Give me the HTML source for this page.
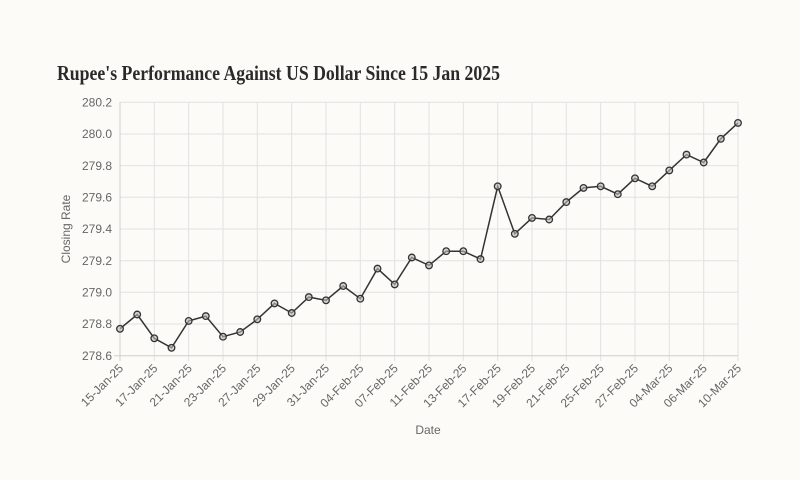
<!DOCTYPE html>
<html><head><meta charset="utf-8"><style>
html,body{margin:0;padding:0;background:#fcfbf7;}
svg{display:block;}
.t{font-family:"Liberation Sans",sans-serif;font-size:12px;fill:#666;}
</style></head><body>
<svg width="800" height="480" viewBox="0 0 800 480" xmlns="http://www.w3.org/2000/svg">
<rect width="800" height="480" fill="#fcfbf7"/>
<text x="57" y="80" font-family="Liberation Serif,serif" font-weight="bold" font-size="21" fill="#2a2a2a" textLength="443" lengthAdjust="spacingAndGlyphs">Rupee's Performance Against US Dollar Since 15 Jan 2025</text>
<g stroke="#e2e2e2" stroke-width="1">
<line x1="120" x2="738" y1="102.3" y2="102.3"/><line x1="120" x2="738" y1="134" y2="134"/><line x1="120" x2="738" y1="165.6" y2="165.6"/><line x1="120" x2="738" y1="197.3" y2="197.3"/><line x1="120" x2="738" y1="229" y2="229"/><line x1="120" x2="738" y1="260.7" y2="260.7"/><line x1="120" x2="738" y1="292.3" y2="292.3"/><line x1="120" x2="738" y1="324" y2="324"/>
<line x1="154.3" x2="154.3" y1="102" y2="361"/><line x1="188.7" x2="188.7" y1="102" y2="361"/><line x1="223" x2="223" y1="102" y2="361"/><line x1="257.3" x2="257.3" y1="102" y2="361"/><line x1="291.7" x2="291.7" y1="102" y2="361"/><line x1="326" x2="326" y1="102" y2="361"/><line x1="360.3" x2="360.3" y1="102" y2="361"/><line x1="394.7" x2="394.7" y1="102" y2="361"/><line x1="429" x2="429" y1="102" y2="361"/><line x1="463.3" x2="463.3" y1="102" y2="361"/><line x1="497.7" x2="497.7" y1="102" y2="361"/><line x1="532" x2="532" y1="102" y2="361"/><line x1="566.3" x2="566.3" y1="102" y2="361"/><line x1="600.7" x2="600.7" y1="102" y2="361"/><line x1="635" x2="635" y1="102" y2="361"/><line x1="669.3" x2="669.3" y1="102" y2="361"/><line x1="703.7" x2="703.7" y1="102" y2="361"/><line x1="738" x2="738" y1="102" y2="361"/>
</g>
<g stroke="#cfcfcf" stroke-width="1"><line x1="120" x2="120" y1="102" y2="361"/><line x1="114" x2="738" y1="355.7" y2="355.7"/></g>
<g class="t" text-anchor="end">
<text x="112" y="106.5">280.2</text><text x="112" y="138">280.0</text><text x="112" y="169.8">279.8</text><text x="112" y="201.5">279.6</text><text x="112" y="233">279.4</text><text x="112" y="265">279.2</text><text x="112" y="296.5">279.0</text><text x="112" y="328">278.8</text><text x="112" y="360">278.6</text>
</g>
<text class="t" transform="translate(70,229) rotate(-90)" text-anchor="middle">Closing Rate</text>
<text class="t" x="428" y="434" text-anchor="middle">Date</text>
<g class="t" text-anchor="end">
<text transform="translate(124,369) rotate(-45)">15-Jan-25</text>
<text transform="translate(158.3,369) rotate(-45)">17-Jan-25</text>
<text transform="translate(192.7,369) rotate(-45)">21-Jan-25</text>
<text transform="translate(227,369) rotate(-45)">23-Jan-25</text>
<text transform="translate(261.3,369) rotate(-45)">27-Jan-25</text>
<text transform="translate(295.7,369) rotate(-45)">29-Jan-25</text>
<text transform="translate(330,369) rotate(-45)">31-Jan-25</text>
<text transform="translate(364.3,369) rotate(-45)">04-Feb-25</text>
<text transform="translate(398.7,369) rotate(-45)">07-Feb-25</text>
<text transform="translate(433,369) rotate(-45)">11-Feb-25</text>
<text transform="translate(467.3,369) rotate(-45)">13-Feb-25</text>
<text transform="translate(501.7,369) rotate(-45)">17-Feb-25</text>
<text transform="translate(536,369) rotate(-45)">19-Feb-25</text>
<text transform="translate(570.3,369) rotate(-45)">21-Feb-25</text>
<text transform="translate(604.7,369) rotate(-45)">25-Feb-25</text>
<text transform="translate(639,369) rotate(-45)">27-Feb-25</text>
<text transform="translate(673.3,369) rotate(-45)">04-Mar-25</text>
<text transform="translate(707.7,369) rotate(-45)">06-Mar-25</text>
<text transform="translate(742,369) rotate(-45)">10-Mar-25</text>
</g>
<polyline fill="none" stroke="#333" stroke-width="1.5" points="120,328.8 137.2,314.5 154.3,338.3 171.5,347.8 188.7,320.9 205.8,316.1 223,336.7 240.2,332 257.3,319.3 274.5,303.4 291.7,313 308.8,297.1 326,300.3 343.2,286 360.3,298.7 377.5,268.6 394.7,284.4 411.8,257.5 429,265.4 446.2,251.2 463.3,251.2 480.5,259.1 497.7,186.3 514.8,233.8 532,217.9 549.2,219.5 566.3,202.1 583.5,187.9 600.7,186.3 617.8,194.2 635,178.3 652.2,186.3 669.3,170.4 686.5,154.6 703.7,162.5 720.8,138.8 738,122.9"/>
<g fill="#bbb" fill-opacity="0.6" stroke="#333" stroke-width="1.3">
<circle cx="120" cy="328.8" r="3.3"/><circle cx="137.2" cy="314.5" r="3.3"/><circle cx="154.3" cy="338.3" r="3.3"/><circle cx="171.5" cy="347.8" r="3.3"/><circle cx="188.7" cy="320.9" r="3.3"/><circle cx="205.8" cy="316.1" r="3.3"/><circle cx="223" cy="336.7" r="3.3"/><circle cx="240.2" cy="332" r="3.3"/><circle cx="257.3" cy="319.3" r="3.3"/><circle cx="274.5" cy="303.4" r="3.3"/><circle cx="291.7" cy="313" r="3.3"/><circle cx="308.8" cy="297.1" r="3.3"/><circle cx="326" cy="300.3" r="3.3"/><circle cx="343.2" cy="286" r="3.3"/><circle cx="360.3" cy="298.7" r="3.3"/><circle cx="377.5" cy="268.6" r="3.3"/><circle cx="394.7" cy="284.4" r="3.3"/><circle cx="411.8" cy="257.5" r="3.3"/><circle cx="429" cy="265.4" r="3.3"/><circle cx="446.2" cy="251.2" r="3.3"/><circle cx="463.3" cy="251.2" r="3.3"/><circle cx="480.5" cy="259.1" r="3.3"/><circle cx="497.7" cy="186.3" r="3.3"/><circle cx="514.8" cy="233.8" r="3.3"/><circle cx="532" cy="217.9" r="3.3"/><circle cx="549.2" cy="219.5" r="3.3"/><circle cx="566.3" cy="202.1" r="3.3"/><circle cx="583.5" cy="187.9" r="3.3"/><circle cx="600.7" cy="186.3" r="3.3"/><circle cx="617.8" cy="194.2" r="3.3"/><circle cx="635" cy="178.3" r="3.3"/><circle cx="652.2" cy="186.3" r="3.3"/><circle cx="669.3" cy="170.4" r="3.3"/><circle cx="686.5" cy="154.6" r="3.3"/><circle cx="703.7" cy="162.5" r="3.3"/><circle cx="720.8" cy="138.8" r="3.3"/><circle cx="738" cy="122.9" r="3.3"/>
</g>
</svg>
</body></html>
